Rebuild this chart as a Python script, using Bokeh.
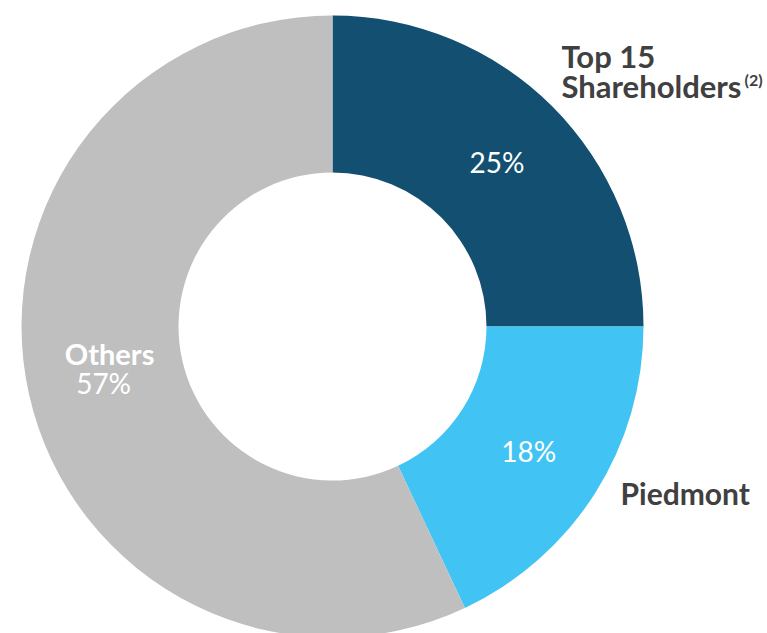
import math
from bokeh.plotting import figure
from bokeh.models import Range1d, ColumnDataSource
from bokeh.core.properties import value
from bokeh.embed import file_html
from bokeh.resources import INLINE

# ---- data ----
categories = ["Top 15 Shareholders", "Piedmont", "Others"]
shares = [25, 18, 57]
pct_labels = ["25%", "18%", "57%"]
colors = ["#134F71", "#41C4F3", "#BFBFBF"]

W, H = 767, 633
FONT = "Lato"

p = figure(width=W, height=H, x_range=Range1d(0, W), y_range=Range1d(0, H),
           output_backend="svg", toolbar_location=None, min_border=0)
p.axis.visible = False
p.grid.visible = False
p.outline_line_color = None
p.background_fill_color = "white"
p.border_fill_color = "white"


def Y(page_y):
    return H - page_y


cx, cy = 332, Y(326)
r_in, r_out = 154, 311

total = sum(shares)
starts, ends, mids = [], [], []
cum = 0.0
for s in shares:
    a0 = math.pi / 2 - 2 * math.pi * cum / total
    cum += s
    a1 = math.pi / 2 - 2 * math.pi * cum / total
    starts.append(a0)
    ends.append(a1)
    mids.append((a0 + a1) / 2)

src = ColumnDataSource(dict(x=[cx] * 3, y=[cy] * 3, start=starts, end=ends,
                            color=colors, cat=categories))
p.annular_wedge(x="x", y="y", inner_radius=r_in, outer_radius=r_out,
                start_angle="start", end_angle="end", direction="clock",
                fill_color="color", line_color=None, source=src)

# percent labels at mid radius / mid angle
r_mid = (r_in + r_out) / 2
lx = [cx + r_mid * math.cos(a) for a in mids]
ly = [cy + r_mid * math.sin(a) for a in mids]

p.text(x=lx[:2], y=ly[:2], text=pct_labels[:2], text_color="white",
       text_font=value(FONT), text_font_size="28px", text_align="center",
       text_baseline="middle")

# Others (two lines inside)
p.text(x=[lx[2] + 4], y=[ly[2] + 24], text=["Others"], text_color="white",
       text_font=value(FONT), text_font_size="29px", text_font_style="bold",
       text_align="center", text_baseline="middle")
p.text(x=[lx[2] - 2], y=[ly[2] - 6], text=[pct_labels[2]], text_color="white",
       text_font=value(FONT), text_font_size="28px", text_align="center",
       text_baseline="middle")

# outer labels
dark = "#404040"
p.text(x=[561, 561], y=[Y(55), Y(85)], text=["Top 15", "Shareholders"],
       text_color=dark, text_font=value(FONT), text_font_size="31px",
       text_font_style="bold", text_align="left", text_baseline="alphabetic")
p.text(x=[744], y=[Y(79)], text=["(2)"], text_color=dark,
       text_font=value(FONT), text_font_size="16px", text_font_style="bold",
       text_align="left", text_baseline="alphabetic")
p.text(x=[620], y=[Y(492)], text=["Piedmont"], text_color=dark,
       text_font=value(FONT), text_font_size="30px", text_font_style="bold",
       text_align="left", text_baseline="alphabetic")

open("out.html", "w").write(file_html(p, INLINE))
